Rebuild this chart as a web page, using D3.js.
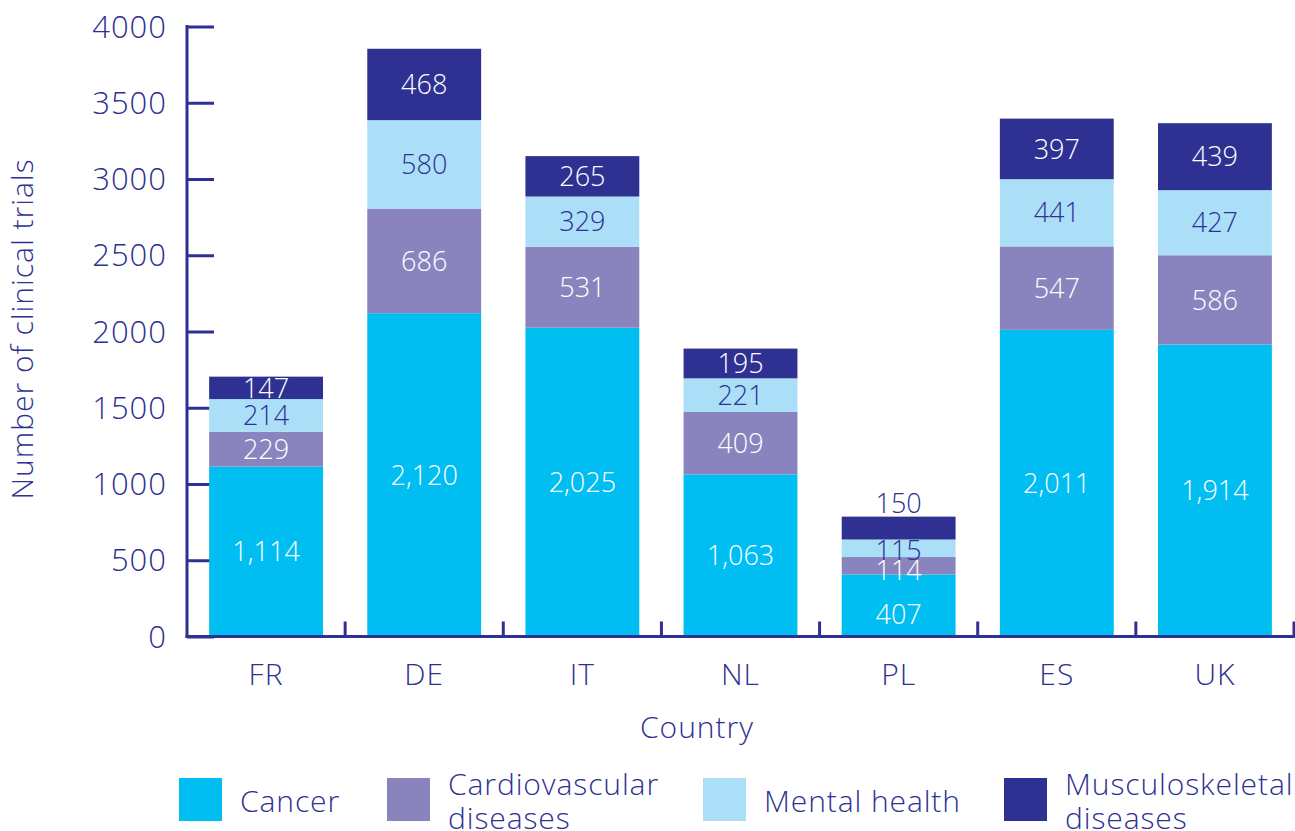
<!DOCTYPE html>
<html>
<head>
<meta charset="utf-8">
<script src="https://cdn.jsdelivr.net/npm/d3@7"></script>
<style>
  html, body { margin: 0; padding: 0; background: #fff; }
  svg { display: block; font-family: "Open Sans", Lato, sans-serif; font-weight: 350; }
</style>
</head>
<body>
<svg id="chart" width="1295" height="831"></svg>
<script>
// ---- data ----
const countries = ["FR", "DE", "IT", "NL", "PL", "ES", "UK"];
const seriesNames = ["Cancer", "Cardiovascular diseases", "Mental health", "Musculoskeletal diseases"];
const cancer = [1114, 2120, 2025, 1063, 407, 2011, 1914];
const cardiovascular = [229, 686, 531, 409, 114, 547, 586];
const mentalHealth = [214, 580, 329, 221, 115, 441, 427];
const musculoskeletal = [147, 468, 265, 195, 150, 397, 439];
const yTicks = [0, 500, 1000, 1500, 2000, 2500, 3000, 3500, 4000];

// ---- styling ----
const colors = ["#00BEF2", "#8A84BE", "#ABDFF8", "#2E3192"];
const labelColors = ["#ffffff", "#ffffff", "#2E3192", "#ffffff"];
const navy = "#2E3192";

const svg = d3.select("#chart");
const m = { left: 187, right: 1294, top: 26.5, bottom: 636.5 };

const x = d3.scaleBand().domain(countries).range([m.left, m.right]).paddingInner(0.28).paddingOuter(0.14);
const y = d3.scaleLinear().domain([0, 4000]).range([m.bottom, m.top]);

const table = countries.map((c, i) => ({
  country: c,
  s0: cancer[i], s1: cardiovascular[i], s2: mentalHealth[i], s3: musculoskeletal[i]
}));
const stack = d3.stack().keys(["s0", "s1", "s2", "s3"]);
const layers = stack(table);

// y axis
const yAxis = d3.axisRight(y).tickValues(yTicks).tickSize(27).tickFormat("");
const yg = svg.append("g").attr("transform", `translate(${m.left},0)`).call(yAxis);
yg.select(".domain").remove();
yg.selectAll("line").attr("stroke", navy).attr("stroke-width", 3);
svg.append("g").selectAll("text").data(yTicks).join("text")
  .attr("x", 167).attr("y", d => y(d)).attr("dy", "0.36em")
  .attr("text-anchor", "end").attr("font-size", 31).attr("letter-spacing", 1).attr("fill", navy)
  .text(d => d);

// x axis boundary ticks
const step = x.step();
const boundaries = countries.map(c => x(c) + x.bandwidth() + (step - x.bandwidth()) / 2);
svg.append("g").selectAll("line").data(boundaries).join("line")
  .attr("x1", d => d).attr("x2", d => d)
  .attr("y1", m.bottom).attr("y2", m.bottom - 15)
  .attr("stroke", navy).attr("stroke-width", 3);

// bars
layers.forEach((layer, k) => {
  svg.append("g").selectAll("rect").data(layer).join("rect")
    .attr("x", d => x(d.data.country))
    .attr("width", x.bandwidth())
    .attr("y", d => y(d[1]))
    .attr("height", d => y(d[0]) - y(d[1]))
    .attr("fill", colors[k]);
});

// axis lines on top
svg.append("line").attr("x1", m.left).attr("x2", m.left).attr("y1", m.top - 1.5).attr("y2", m.bottom + 1.5)
  .attr("stroke", navy).attr("stroke-width", 3);
svg.append("line").attr("x1", m.left - 1.5).attr("x2", m.right + 2).attr("y1", m.bottom).attr("y2", m.bottom)
  .attr("stroke", navy).attr("stroke-width", 3);

// value labels (label nudges in px for crowded PL bar)
const labelNudge = { PL: [9, 5, 2, -25] };
const fmt = d3.format(",");
layers.forEach((layer, k) => {
  svg.append("g").selectAll("text").data(layer).join("text")
    .attr("x", d => x(d.data.country) + x.bandwidth() / 2)
    .attr("y", d => (y(d[0]) + y(d[1])) / 2 + (labelNudge[d.data.country] ? labelNudge[d.data.country][k] : 0))
    .attr("dy", "0.36em")
    .attr("text-anchor", "middle").attr("font-size", 27)
    .attr("fill", d => (labelNudge[d.data.country] && k === 3) ? navy : labelColors[k])
    .text(d => fmt(d[1] - d[0]));
});

// x tick labels
svg.append("g").selectAll("text").data(countries).join("text")
  .attr("x", d => x(d) + x.bandwidth() / 2).attr("y", 685)
  .attr("text-anchor", "middle").attr("font-size", 30).attr("letter-spacing", 1).attr("fill", navy)
  .text(d => d);

// axis titles
svg.append("text").attr("x", 697).attr("y", 738).attr("text-anchor", "middle")
  .attr("font-size", 30).attr("letter-spacing", 1).attr("fill", navy).text("Country");
svg.append("text").attr("transform", "translate(33,329) rotate(-90)").attr("text-anchor", "middle")
  .attr("font-size", 30).attr("letter-spacing", 1).attr("fill", navy).text("Number of clinical trials");

// legend
const legendX = [179, 387, 703, 1004];
const legendLines = [["Cancer"], ["Cardiovascular", "diseases"], ["Mental health"], ["Musculoskeletal", "diseases"]];
seriesNames.forEach((name, k) => {
  const g = svg.append("g");
  g.append("rect").attr("x", legendX[k]).attr("y", 778).attr("width", 43).attr("height", 43).attr("fill", colors[k]);
  const lines = legendLines[k];
  const t = g.append("text").attr("font-size", 30).attr("letter-spacing", 0.9).attr("fill", navy);
  if (lines.length === 1) {
    t.append("tspan").attr("x", legendX[k] + 61).attr("y", 812).text(lines[0]);
  } else {
    lines.forEach((ln, j) => t.append("tspan").attr("x", legendX[k] + 61).attr("y", 795 + j * 34).text(ln));
  }
});
</script>
</body>
</html>
